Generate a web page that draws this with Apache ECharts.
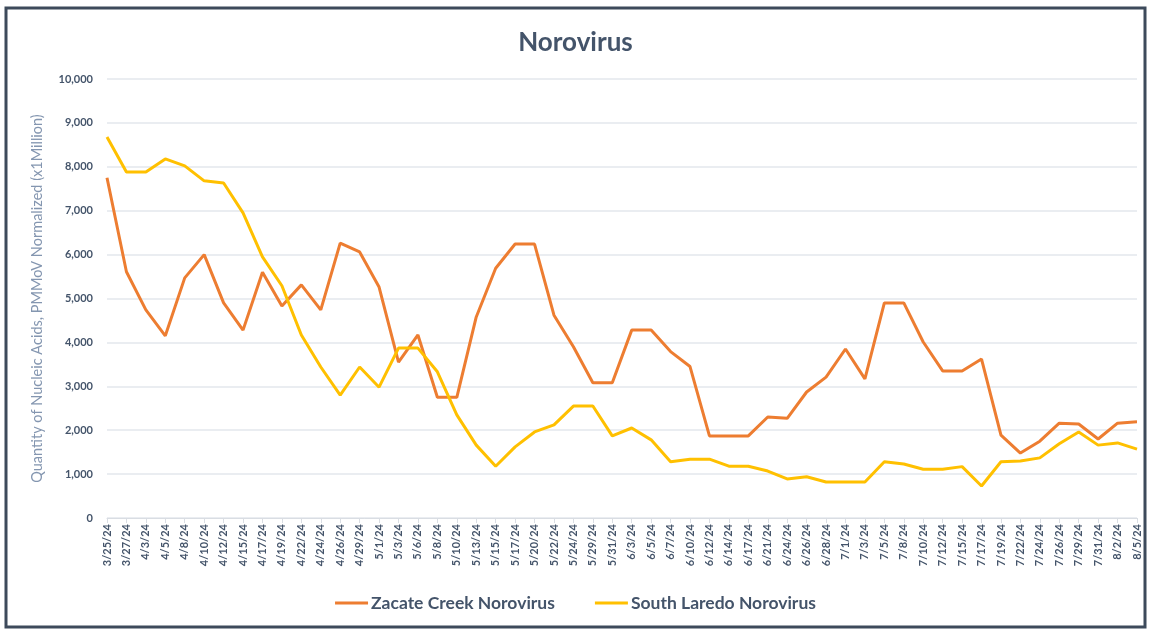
<!DOCTYPE html>
<html>
<head>
<meta charset="utf-8">
<script src="https://cdn.jsdelivr.net/npm/echarts@6/dist/echarts.min.js"></script>
<style>
  html, body { margin: 0; padding: 0; background: #fff; }
  #chart { width: 1151px; height: 631px; }
</style>
</head>
<body>
<div id="chart"></div>
<script>
// sample dates
var dates = ['3/25/24','3/27/24','4/3/24','4/5/24','4/8/24','4/10/24','4/12/24','4/15/24','4/17/24','4/19/24',
  '4/22/24','4/24/24','4/26/24','4/29/24','5/1/24','5/3/24','5/6/24','5/8/24','5/10/24','5/13/24',
  '5/15/24','5/17/24','5/20/24','5/22/24','5/24/24','5/29/24','5/31/24','6/3/24','6/5/24','6/7/24',
  '6/10/24','6/12/24','6/14/24','6/17/24','6/21/24','6/24/24','6/26/24','6/28/24','7/1/24','7/3/24',
  '7/5/24','7/8/24','7/10/24','7/12/24','7/15/24','7/17/24','7/19/24','7/22/24','7/24/24','7/26/24',
  '7/29/24','7/31/24','8/2/24','8/5/24'];

// Zacate Creek
var zacate = [7750,5610,4740,4150,5470,6000,4900,4280,5600,4830,
  5310,4740,6260,6060,5260,3550,4170,2750,2750,4580,
  5690,6240,6240,4620,3900,3080,3080,4280,4280,3790,
  3450,1870,1870,1870,2300,2270,2870,3210,3850,3170,
  4900,4900,4010,3350,3350,3620,1890,1480,1750,2160,
  2140,1800,2160,2190];

// South Laredo
var southLaredo = [8680,7880,7880,8180,8020,7680,7630,6950,5950,5290,
  4170,3440,2800,3440,2980,3870,3870,3330,2350,1660,
  1180,1620,1960,2120,2550,2550,1870,2050,1780,1280,
  1340,1340,1180,1180,1070,890,940,820,820,820,
  1280,1230,1110,1110,1170,730,1280,1300,1370,1690,
  1960,1660,1710,1570];

var txt = '#44546a';
var fontFam = 'Lato, "Open Sans", sans-serif';

var option = {
  backgroundColor: '#fff',
  textStyle: { fontFamily: fontFam },
  title: {
    text: 'Norovirus',
    left: 'center',
    top: 25,
    textStyle: { color: txt, fontSize: 26, fontWeight: 'bold', fontFamily: fontFam }
  },
  graphic: [{
    type: 'rect',
    shape: { x: 6, y: 8, width: 1139, height: 619 },
    style: { fill: 'none', stroke: '#3d4a5b', lineWidth: 3 },
    silent: true
  }],
  legend: {
    bottom: 14,
    left: 'center',
    itemGap: 40,
    itemWidth: 33,
    itemHeight: 3,
    icon: 'rect',
    textStyle: { color: txt, fontSize: 17.5, fontWeight: 'bold', fontFamily: fontFam, padding: [0, 0, 0, -2] },
    data: ['Zacate Creek Norovirus', 'South Laredo Norovirus']
  },
  grid: { left: 107, right: 14, top: 79, bottom: 113 },
  xAxis: {
    type: 'category',
    boundaryGap: false,
    data: dates,
    axisLine: { lineStyle: { color: '#d9dde3' } },
    axisTick: { show: true, alignWithLabel: true, lineStyle: { color: '#d9dde3' } },
    axisLabel: { rotate: 90, interval: 0, color: txt, fontSize: 11, fontWeight: 'bold', margin: 6 }
  },
  yAxis: {
    type: 'value',
    min: 0,
    max: 10000,
    interval: 1000,
    name: 'Quantity of Nucleic Acids, PMMoV Normalized (x1Million)',
    nameLocation: 'middle',
    nameGap: 62,
    nameTextStyle: { color: '#8496b0', fontSize: 14.5 },
    axisLine: { show: false },
    axisTick: { show: false },
    axisLabel: {
      color: txt, fontSize: 11, fontWeight: 'bold', margin: 14,
      formatter: function (v) { return v.toLocaleString('en-US'); }
    },
    splitLine: { lineStyle: { color: '#e3e7ed', width: 1.5 } }
  },
  series: [
    {
      name: 'Zacate Creek Norovirus',
      type: 'line',
      data: zacate,
      symbol: 'none',
      color: '#ED7D31',
      lineStyle: { width: 3, color: '#ED7D31' }
    },
    {
      name: 'South Laredo Norovirus',
      type: 'line',
      data: southLaredo,
      symbol: 'none',
      color: '#FFC000',
      lineStyle: { width: 3, color: '#FFC000' }
    }
  ]
};

var myChart = echarts.init(document.getElementById('chart'));
myChart.setOption(option);
</script>
</body>
</html>
